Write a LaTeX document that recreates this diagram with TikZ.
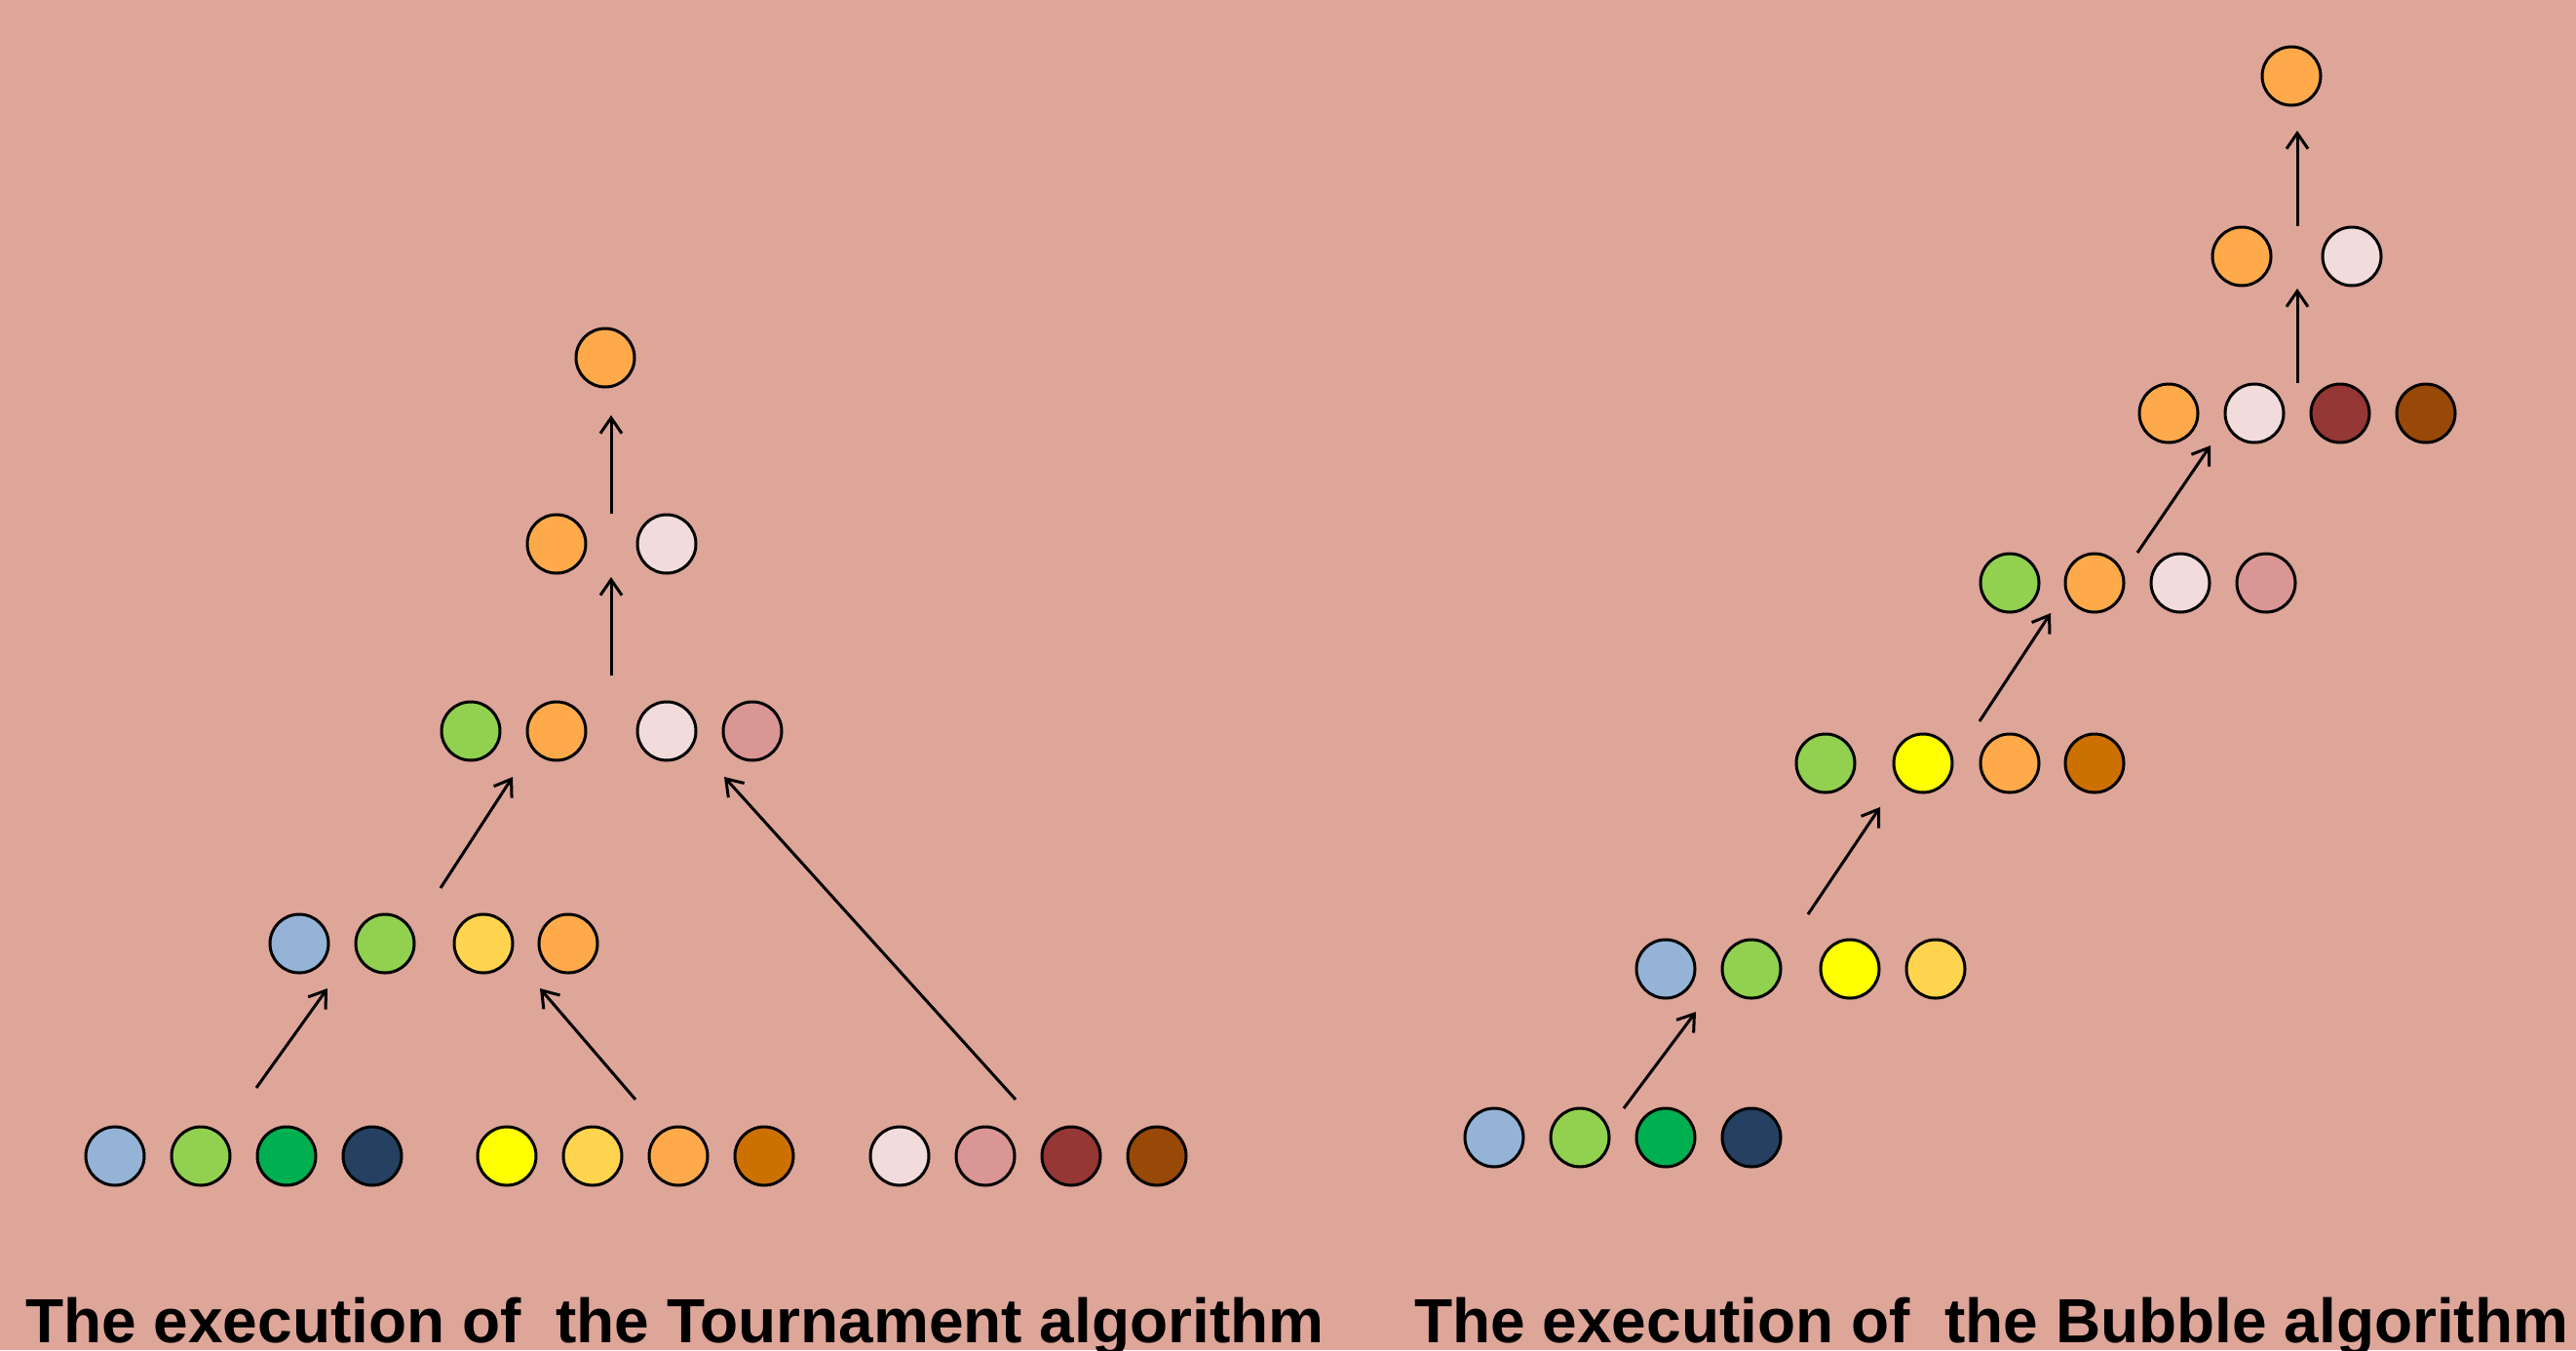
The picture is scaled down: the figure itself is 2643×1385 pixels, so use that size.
\documentclass[tikz,border=0pt]{standalone}
\usepackage{fontspec}
\setmainfont{Liberation Sans}
\usetikzlibrary{arrows.meta}
\definecolor{bgc}{HTML}{DEA599}
\definecolor{cblue}{HTML}{95B3D7}
\definecolor{cgreen}{HTML}{92D050}
\definecolor{cdgreen}{HTML}{00B050}
\definecolor{cnavy}{HTML}{254061}
\definecolor{cyellow}{HTML}{FFFF00}
\definecolor{cgold}{HTML}{FFD44F}
\definecolor{corange}{HTML}{FFAA4A}
\definecolor{cdorange}{HTML}{CC7000}
\definecolor{cpinkw}{HTML}{F2DCDB}
\definecolor{cpink}{HTML}{D99694}
\definecolor{cred}{HTML}{953735}
\definecolor{cbrown}{HTML}{984807}
\tikzset{
  ball/.style={circle, draw=black, line width=3pt, minimum size=60pt, inner sep=0pt, fill=#1},
  movearrow/.style={line width=3pt, -{Straight Barb[length=16pt,width=22pt]}},
  caption/.style={anchor=base west, inner sep=0pt, font=\fontsize{64}{70}\selectfont\bfseries}
}
\begin{document}
\begin{tikzpicture}[x=1pt,y=-1pt]
\fill[bgc] (0,0) rectangle (2643,1385);
\useasboundingbox (0,0) rectangle (2643,1385);
% ---------- Tournament ----------
\node[ball=cblue]   (tb1)  at (118,1186) {};
\node[ball=cgreen]  (tb2)  at (206,1186) {};
\node[ball=cdgreen] (tb3)  at (294,1186) {};
\node[ball=cnavy]   (tb4)  at (382,1186) {};
\node[ball=cyellow] (tb5)  at (520,1186) {};
\node[ball=cgold]   (tb6)  at (608,1186) {};
\node[ball=corange] (tb7)  at (696,1186) {};
\node[ball=cdorange](tb8)  at (784,1186) {};
\node[ball=cpinkw]  (tb9)  at (923,1186) {};
\node[ball=cpink]   (tb10) at (1011,1186) {};
\node[ball=cred]    (tb11) at (1099,1186) {};
\node[ball=cbrown]  (tb12) at (1187,1186) {};
\node[ball=cblue]   (ta1) at (307,968) {};
\node[ball=cgreen]  (ta2) at (395,968) {};
\node[ball=cgold]   (ta3) at (496,968) {};
\node[ball=corange] (ta4) at (583,968) {};
\node[ball=cgreen]  (tc1) at (483,750) {};
\node[ball=corange] (tc2) at (571,750) {};
\node[ball=cpinkw]  (tc3) at (684,750) {};
\node[ball=cpink]   (tc4) at (772,750) {};
\node[ball=corange] (td1) at (571,558) {};
\node[ball=cpinkw]  (td2) at (684,558) {};
\node[ball=corange] (te1) at (621,367) {};
\coordinate (ts1) at (263,1116);  \coordinate (tt1) at (336,1014);
\coordinate (ts2) at (652,1128);  \coordinate (tt2) at (554,1014);
\coordinate (ts3) at (1042,1128); \coordinate (tt3) at (743,797);
\coordinate (ts4) at (452,911);   \coordinate (tt4) at (526,797);
\coordinate (ts5) at (627,693);   \coordinate (tt5) at (627,592);
\coordinate (ts6) at (627,527);   \coordinate (tt6) at (627,426);
\foreach \i in {1,...,6} \draw[movearrow] (ts\i) -- (tt\i);
% ---------- Bubble ----------
\node[ball=cblue]   (bb1) at (1533,1167) {};
\node[ball=cgreen]  (bb2) at (1621,1167) {};
\node[ball=cdgreen] (bb3) at (1709,1167) {};
\node[ball=cnavy]   (bb4) at (1797,1167) {};
\node[ball=cblue]   (ba1) at (1709,994) {};
\node[ball=cgreen]  (ba2) at (1797,994) {};
\node[ball=cyellow] (ba3) at (1898,994) {};
\node[ball=cgold]   (ba4) at (1986,994) {};
\node[ball=cgreen]  (bc1) at (1873,783) {};
\node[ball=cyellow] (bc2) at (1973,783) {};
\node[ball=corange] (bc3) at (2062,783) {};
\node[ball=cdorange](bc4) at (2149,783) {};
\node[ball=cgreen]  (bd1) at (2062,598) {};
\node[ball=corange] (bd2) at (2149,598) {};
\node[ball=cpinkw]  (bd3) at (2237,598) {};
\node[ball=cpink]   (bd4) at (2325,598) {};
\node[ball=corange] (be1) at (2225,424) {};
\node[ball=cpinkw]  (be2) at (2313,424) {};
\node[ball=cred]    (be3) at (2401,424) {};
\node[ball=cbrown]  (be4) at (2489,424) {};
\node[ball=corange] (bf1) at (2300,263) {};
\node[ball=cpinkw]  (bf2) at (2413,263) {};
\node[ball=corange] (bg1) at (2351,78) {};
\coordinate (bs1) at (1666,1137); \coordinate (bt1) at (1740,1038);
\coordinate (bs2) at (1855,938);  \coordinate (bt2) at (1929,828);
\coordinate (bs3) at (2031,740);  \coordinate (bt3) at (2104,629);
\coordinate (bs4) at (2193,567);  \coordinate (bt4) at (2268,457);
\coordinate (bs5) at (2357,393);  \coordinate (bt5) at (2357,296);
\coordinate (bs6) at (2357,232);  \coordinate (bt6) at (2357,134);
\foreach \i in {1,...,6} \draw[movearrow] (bs\i) -- (bt\i);
% ---------- captions ----------
\node[caption] (cap1) at (26,1377) {The execution of\ \ the Tournament algorithm};
\node[caption] (cap2) at (1451,1377) {The execution of\ \ the Bubble algorithm};
\end{tikzpicture}
\end{document}
